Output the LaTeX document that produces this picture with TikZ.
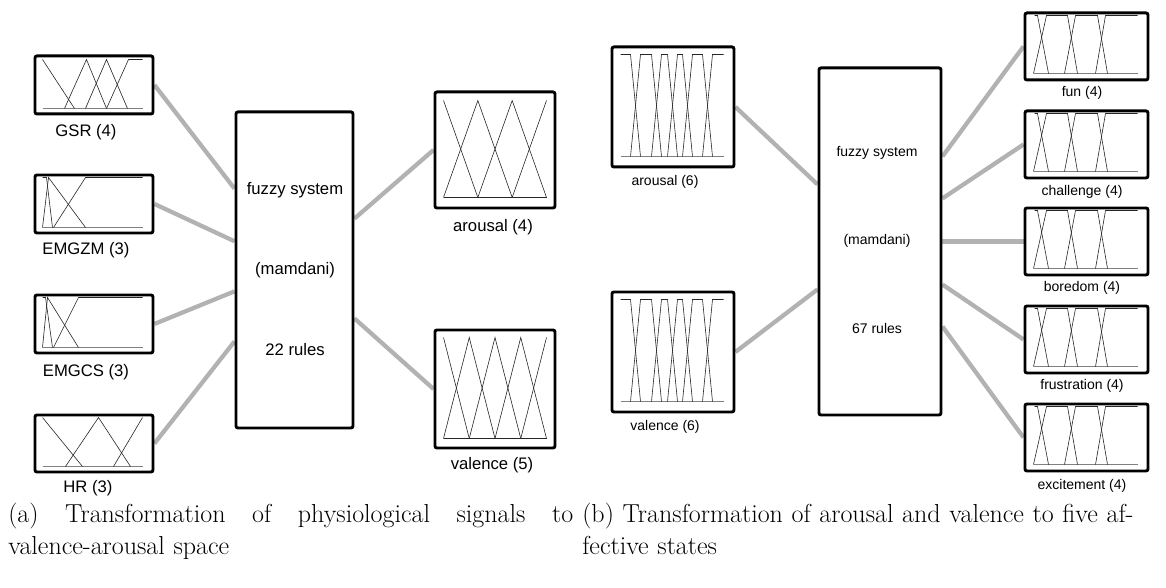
\documentclass[tikz,border=0pt]{standalone}
\usepackage{fontspec}
\newfontfamily\lblfont{Liberation Sans}
\usetikzlibrary{calc}
\pgfdeclarelayer{bg}
\pgfsetlayers{bg,main}
\begin{document}
\begin{tikzpicture}[x=0.75pt,y=-0.75pt,
  box/.style={draw=black, line width=2.2pt, fill=white, rounded corners=1.5pt, inner sep=0pt, anchor=north west},
  smallbox/.style={box, minimum width=88.5pt, minimum height=43.5pt},
  outbox/.style={box, minimum width=92.25pt, minimum height=50.25pt},
  mf/.style={line width=0.45pt, draw=black!85, line join=miter},
  baseln/.style={line width=0.7pt, draw=black!50},
  conn/.style={line width=3.2pt, draw=black!30},
  lblL/.style={font=\lblfont\fontsize{12.5}{14}\selectfont, inner sep=0pt},
  lblR/.style={font=\lblfont\fontsize{10.5}{12}\selectfont, inner sep=0pt},
  captxt/.style={font=\fontsize{19.5}{24}\selectfont, text width=430pt, align=left, inner sep=0pt, anchor=north west}
]
\useasboundingbox (0,0) rectangle (1166,588);

% ---------------- panel (a) ----------------
\node[smallbox] (gsr) at (33.5,54.5) {};
\node[smallbox] (emgzm) at (33.5,173.5) {};
\node[smallbox] (emgcs) at (33.5,293.5) {};
\node[smallbox, minimum height=42.75pt] (hr) at (33.5,413.5) {};
\node[box, minimum width=87.75pt, minimum height=237pt] (fzA) at (234.5,110.5) {};
\node[box, minimum width=90pt, minimum height=87pt] (arA) at (433.5,90.5) {};
\node[box, minimum width=90pt, minimum height=88.5pt] (vaA) at (433.5,328.5) {};

\node[lblL] (gsrl) at (86,132) {GSR (4)};
\node[lblL] (emgzml) at (86,250) {EMGZM (3)};
\node[lblL] (emgcsl) at (86,372) {EMGCS (3)};
\node[lblL] (hrl) at (88,488) {HR (3)};
\node[lblL] (fzA1) at (295,190) {fuzzy system};
\node[lblL] (fzA2) at (295,270) {(mamdani)};
\node[lblL] (fzA3) at (295,350) {22 rules};
\node[lblL] (arAl) at (493,227) {arousal (4)};
\node[lblL] (vaAl) at (492,465) {valence (5)};

% membership functions (a)
\begin{scope}[shift={(gsr.north west)}]
  \draw[baseln] (9,54) -- (109,54);
  \draw[mf] (9,5) -- (41,54);
  \draw[mf] (31,54) -- (53,5) -- (73,54);
  \draw[mf] (52,54) -- (73,5) -- (94,54);
  \draw[mf] (73,54) -- (95,5) -- (109,5);
\end{scope}
\begin{scope}[shift={(emgzm.north west)}]
  \draw[baseln] (9,54) -- (109,54);
  \draw[mf] (9,4) -- (13,4) -- (19,54);
  \draw[mf] (9,54) -- (15,4) -- (52,54);
  \draw[mf] (20,54) -- (52,4) -- (109,4);
\end{scope}
\begin{scope}[shift={(emgcs.north west)}]
  \draw[baseln] (9,54) -- (109,54);
  \draw[mf] (9,4) -- (12,4) -- (19,54);
  \draw[mf] (9,54) -- (14,4) -- (45,54);
  \draw[mf] (20,54) -- (45,4) -- (109,4);
\end{scope}
\begin{scope}[shift={(hr.north west)}]
  \draw[baseln] (9,53) -- (109,53);
  \draw[mf] (9,4) -- (49,53);
  \draw[mf] (32,53) -- (65,4) -- (97,53);
  \draw[mf] (80,53) -- (109,4);
\end{scope}
\begin{scope}[shift={(arA.north west)}]
  \draw[mf, line width=0.7pt] (10,107) -- (113,107);
  \draw[mf] (10,10) -- (44.33,107);
  \draw[mf] (10,107) -- (44.33,10) -- (78.67,107);
  \draw[mf] (44.33,107) -- (78.67,10) -- (113,107);
  \draw[mf] (78.67,107) -- (113,10);
\end{scope}
\begin{scope}[shift={(vaA.north west)}]
  \draw[mf, line width=0.7pt] (10,110) -- (113,110);
  \draw[mf] (10,9) -- (35.75,110);
  \draw[mf] (10,110) -- (35.75,9) -- (61.5,110);
  \draw[mf] (35.75,110) -- (61.5,9) -- (87.25,110);
  \draw[mf] (61.5,110) -- (87.25,9) -- (113,110);
  \draw[mf] (87.25,110) -- (113,9);
\end{scope}

% connectors (a)
\begin{pgfonlayer}{bg}
  \draw[conn] (gsr.east) -- ($(fzA.north west)!0.245!(fzA.south west)$);
  \draw[conn] (emgzm.east) -- ($(fzA.north west)!0.41!(fzA.south west)$);
  \draw[conn] (emgcs.east) -- ($(fzA.north west)!0.567!(fzA.south west)$);
  \draw[conn] (hr.east) -- ($(fzA.north west)!0.724!(fzA.south west)$);
  \draw[conn] ($(fzA.north east)!0.339!(fzA.south east)$) -- (arA.west);
  \draw[conn] ($(fzA.north east)!0.652!(fzA.south east)$) -- (vaA.west);
\end{pgfonlayer}

% ---------------- panel (b) ----------------
\node[box, minimum width=91.5pt, minimum height=90pt] (arB) at (610.5,45.5) {};
\node[box, minimum width=91.5pt, minimum height=90pt] (vaB) at (610.5,290.5) {};
\node[box, minimum width=91.5pt, minimum height=260.25pt] (fzB) at (817.5,66.5) {};
\node[outbox] (fun) at (1023.5,11.5) {};
\node[outbox] (cha) at (1023.5,109.5) {};
\node[outbox] (bor) at (1023.5,206.5) {};
\node[outbox] (fru) at (1023.5,304.5) {};
\node[outbox] (exc) at (1023.5,402.5) {};

\node[lblR] (arBl) at (665,182) {arousal (6)};
\node[lblR] (vaBl) at (665,427) {valence (6)};
\node[lblR] (fzB1) at (877,153) {fuzzy system};
\node[lblR] (fzB2) at (877,241) {(mamdani)};
\node[lblR] (fzB3) at (877,328) {67 rules};
\node[lblR] (funl) at (1082,93) {fun (4)};
\node[lblR] (chal) at (1082,192) {challenge (4)};
\node[lblR] (borl) at (1082,288) {boredom (4)};
\node[lblR] (frul) at (1082,386) {frustration (4)};
\node[lblR] (excl) at (1082,486) {excitement (4)};

% six trapezoidal sets
\foreach \bx in {arB,vaB}{
\begin{scope}[shift={(\bx.north west)}]
  \draw[baseln] (10,111) -- (113,111);
  \draw[mf] (10,9) -- (20,9) -- (30,111);
  \draw[mf] (20,111) -- (30,9) -- (41,9) -- (51,111);
  \draw[mf] (41,111) -- (51,9) -- (57,9) -- (67,111);
  \draw[mf] (57,111) -- (67,9) -- (72,9) -- (82,111);
  \draw[mf] (72,111) -- (82,9) -- (92,9) -- (102,111);
  \draw[mf] (92,111) -- (102,9) -- (113,9);
\end{scope}}

% four trapezoidal sets
\foreach \bx in {fun,cha,bor,fru,exc}{
\begin{scope}[shift={(\bx.north west)}]
  \draw[baseln] (10,62) -- (114,62);
  \draw[mf] (11,4) -- (14,4) -- (25,62);
  \draw[mf] (10,62) -- (23,4) -- (44,4) -- (54,62);
  \draw[mf] (41,62) -- (52,4) -- (74,4) -- (84,62);
  \draw[mf] (72,62) -- (82,4) -- (114,4);
\end{scope}}

% connectors (b)
\begin{pgfonlayer}{bg}
  \draw[conn] (arB.east) -- ($(fzB.north west)!0.337!(fzB.south west)$);
  \draw[conn] (vaB.east) -- ($(fzB.north west)!0.637!(fzB.south west)$);
  \draw[conn] ($(fzB.north east)!0.257!(fzB.south east)$) -- (fun.west);
  \draw[conn] ($(fzB.north east)!0.377!(fzB.south east)$) -- (cha.west);
  \draw[conn] ($(fzB.north east)!0.5!(fzB.south east)$) -- (bor.west);
  \draw[conn] ($(fzB.north east)!0.623!(fzB.south east)$) -- (fru.west);
  \draw[conn] ($(fzB.north east)!0.743!(fzB.south east)$) -- (exc.west);
\end{pgfonlayer}

% ---------------- captions ----------------
\node[captxt] (capA) at (8,503) {\hbox to 423.75pt{(a)\hfill Transformation\hfill of\hfill physiological\hfill signals\hfill to}\\valence-arousal space};
\node[captxt] (capB) at (582,503) {\hbox to 418pt{(b) Transformation of arousal and valence to five af-}\\fective states};
\end{tikzpicture}
\end{document}
